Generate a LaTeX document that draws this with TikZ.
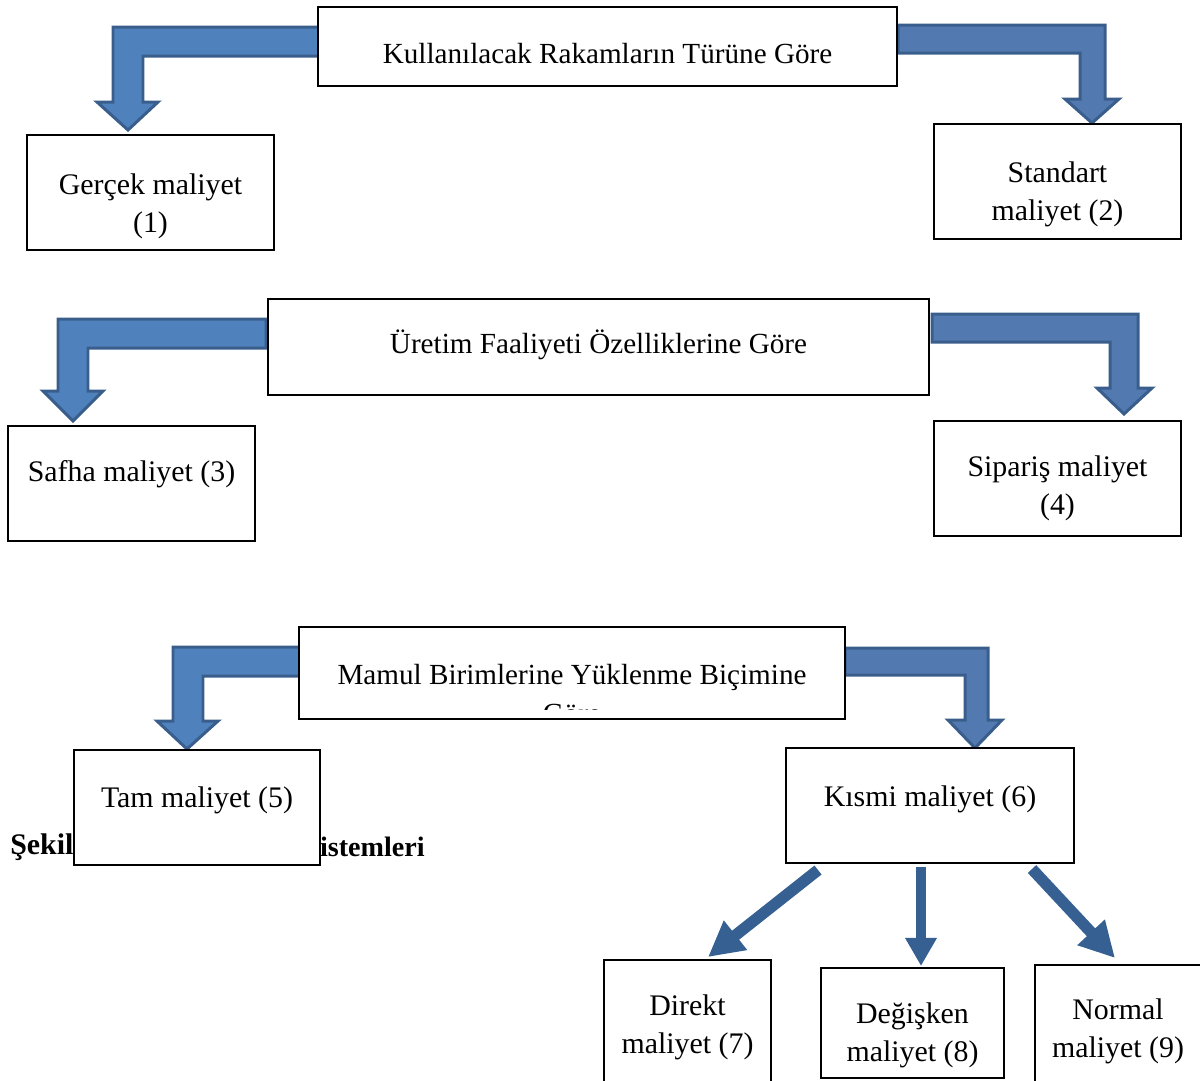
\documentclass[tikz,border=0pt]{standalone}
\usepackage{fontspec}
\setmainfont{Liberation Serif}
\usetikzlibrary{arrows.meta}
\definecolor{arrfill}{RGB}{79,129,189}
\definecolor{arrline}{RGB}{58,94,140}
\definecolor{arrfillr}{RGB}{82,121,176}
\definecolor{solidarr}{RGB}{54,96,146}
\begin{document}
\begin{tikzpicture}[x=0.02cm,y=-0.02cm,
  box/.style={draw,line width=0.7pt,fill=white,inner sep=0pt},
  lbl/.style={align=center,font=\fontsize{17}{21.5}\selectfont,inner sep=0pt},
  hlbl/.style={align=center,font=\fontsize{16.6}{22}\selectfont,inner sep=0pt},
  bent/.style={fill=arrfill,draw=arrline,line width=1.7pt,line join=miter},
  bentr/.style={fill=arrfillr,draw=arrline,line width=1.7pt,line join=miter},
  straight/.style={draw=solidarr,line width=5.5pt,-{Triangle[width=17pt,length=16pt]}},
  diag/.style={draw=solidarr,line width=6.5pt,-{Triangle[width=20pt,length=20pt]}}
]
\useasboundingbox (0,0) rectangle (1200,1080);

% bent arrows, row 1
\draw[bent] (320,27) -- (113,27) -- (113,102) -- (97,102) -- (128,130) -- (158,102) -- (143,102) -- (143,56) -- (320,56) -- cycle;
\draw[bentr] (898,25) -- (1105,25) -- (1105,99) -- (1119,99) -- (1092,123) -- (1065,99) -- (1080,99) -- (1080,53) -- (898,53) -- cycle;
% row 2
\draw[bent] (266,319) -- (58,319) -- (58,391) -- (43,391) -- (73,421) -- (103,391) -- (88,391) -- (88,348) -- (266,348) -- cycle;
\draw[bentr] (932,314) -- (1138,314) -- (1138,388) -- (1152,388) -- (1124,414) -- (1097,388) -- (1110,388) -- (1110,342) -- (932,342) -- cycle;
% row 3
\draw[bent] (300,647) -- (173,647) -- (173,721) -- (157,721) -- (187,749) -- (218,721) -- (203,721) -- (203,676) -- (300,676) -- cycle;
\draw[bentr] (845,648) -- (988,648) -- (988,720) -- (1002,720) -- (975,748) -- (948,720) -- (965,720) -- (965,675) -- (845,675) -- cycle;

% header boxes
\node[box,minimum width=11.58cm,minimum height=1.58cm] (h1) at (607.5,46.5) {};
\node[hlbl] (h1t) at (607.5,54) {Kullanılacak Rakamların Türüne Göre};
\node[box,minimum width=13.22cm,minimum height=1.92cm] (h2) at (598.5,347) {};
\node[hlbl] (h2t) at (598.5,345) {Üretim Faaliyeti Özelliklerine Göre};
\node[box,minimum width=10.92cm,minimum height=1.84cm] (h3) at (572,673) {};
\begin{scope}
\clip (300,628) rectangle (845,709);
\node[hlbl] (h3t) at (572,694) {Mamul Birimlerine Yüklenme Biçimine\\Göre};
\end{scope}

% row 1 boxes
\node[box,minimum width=4.94cm,minimum height=2.3cm] (g1) at (150.5,192.5) {};
\node[lbl] (g1t) at (150.5,206) {Gerçek maliyet\\(1)};
\node[box,minimum width=4.94cm,minimum height=2.3cm] (s2) at (1057.5,181.5) {};
\node[lbl] (s2t) at (1057.5,194) {Standart\\maliyet (2)};

% row 2 boxes
\node[box,minimum width=4.94cm,minimum height=2.3cm] (sf3) at (131.5,483.5) {};
\node[lbl] (sf3t) at (131.5,474) {Safha maliyet (3)};
\node[box,minimum width=4.94cm,minimum height=2.3cm] (sp4) at (1057.5,478.5) {};
\node[lbl] (sp4t) at (1057.5,488) {Sipariş maliyet\\(4)};

% caption (partly hidden)
\node[anchor=west,inner sep=0pt,font=\fontsize{17}{20}\selectfont\bfseries] (cap1) at (10,847) {Şekil};
\node[anchor=east,inner sep=0pt,font=\fontsize{16}{20}\selectfont\bfseries] (cap2) at (425,847) {Sistemleri};

% row 3 boxes
\node[box,minimum width=4.92cm,minimum height=2.3cm] (t5) at (197,807.5) {};
\node[lbl] (t5t) at (197,800) {Tam maliyet (5)};
\node[box,line width=1.6pt,minimum width=5.76cm,minimum height=2.3cm] (k6) at (930,805.5) {};
\node[lbl] (k6t) at (930,799) {Kısmi maliyet (6)};

% bottom boxes
\node[box,minimum width=3.34cm,minimum height=2.6cm] (d7) at (687.5,1025) {};
\node[lbl] (d7t) at (687.5,1027) {Direkt\\maliyet (7)};
\node[box,minimum width=3.66cm,minimum height=2.2cm] (d8) at (912.5,1023) {};
\node[lbl] (d8t) at (912.5,1035) {Değişken\\maliyet (8)};
\node[box,minimum width=3.4cm,minimum height=2.5cm] (n9) at (1120,1027.5) {};
\node[lbl] (n9t) at (1118,1031) {Normal\\maliyet (9)};

% straight arrows
\coordinate (a7s) at (818,870);
\coordinate (a7e) at (708,957);
\coordinate (a8s) at (921,867);
\coordinate (a8e) at (921,966);
\coordinate (a9s) at (1032,869);
\coordinate (a9e) at (1115,958);
\draw[diag] (a7s) -- (a7e);
\draw[straight] (a8s) -- (a8e);
\draw[diag] (a9s) -- (a9e);
\end{tikzpicture}
\end{document}
